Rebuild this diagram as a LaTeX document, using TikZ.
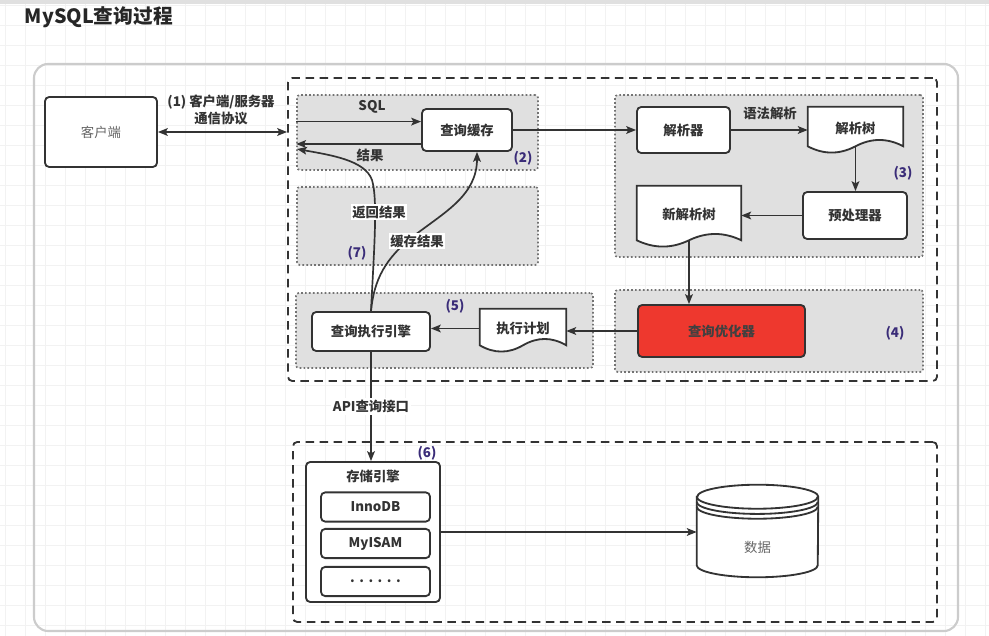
\documentclass[tikz,border=0pt]{standalone}
\usepackage{fontspec}
\setmainfont{Noto Sans CJK SC}
\usetikzlibrary{arrows.meta, fit, calc, positioning}

\definecolor{inkgray}{RGB}{51,51,51}
\definecolor{regiongray}{RGB}{224,224,224}
\definecolor{stepcol}{RGB}{58,44,120}
\definecolor{optred}{RGB}{238,56,46}
\definecolor{gridgray}{RGB}{242,242,242}

% document shape: frame node, wavy outline, then the text
\newcommand{\docnode}[4]{%
  \node[fit={(#2) (#3)}, inner sep=0pt] (#1) {};
  \draw[docline] (#1.north west) -- (#1.north east) -- ([yshift=0.175cm]#1.south east)
    .. controls ($(#1.south west)!0.833!(#1.south east)+(0cm,0.385cm)$)
       and ($(#1.south west)!0.667!(#1.south east)+(0cm,0.385cm)$) .. ([yshift=0.175cm]#1.south)
    .. controls ($(#1.south west)!0.333!(#1.south east)+(0cm,-0.035cm)$)
       and ($(#1.south west)!0.167!(#1.south east)+(0cm,-0.035cm)$) .. ([yshift=0.175cm]#1.south west)
    -- cycle;
  \node[lbl] (#1-text) at ([yshift=0.05cm]#1.center) {#4};}

\begin{document}
\begin{tikzpicture}[x=0.025cm, y=-0.025cm, >={Stealth[length=7pt,width=5.5pt,inset=1.5pt]},
  lbl/.style={font=\bfseries\fontsize{9.5}{11.5}\selectfont, text=inkgray},
  softtext/.style={font=\fontsize{9.5}{11.5}\selectfont, text=black!60},
  box/.style={lbl, draw=inkgray, line width=1.3pt, rounded corners=3pt, fill=white, inner sep=0pt},
  docline/.style={draw=inkgray, line width=1.3pt, fill=white},
  region/.style={draw=black!55, dash pattern=on 1.2pt off 1.6pt, line width=1.2pt, fill=regiongray, rounded corners=2pt, inner sep=0pt},
  group/.style={draw=inkgray, dash pattern=on 6pt off 4pt, line width=1.3pt, rounded corners=3pt, inner sep=0pt},
  stepno/.style={font=\bfseries\fontsize{9.5}{11.5}\selectfont, text=stepcol},
  engbox/.style={box, minimum width=2.725cm, minimum height=0.73cm},
  link/.style={->, draw=inkgray, line width=1.2pt}]
  \useasboundingbox (0,0) rectangle (989,636);
  \fill[white] (0,0) rectangle (989,636);
  % canvas grid
  \foreach \gx in {5,25,...,985} \draw[gridgray, line width=0.4pt] (\gx,0) -- (\gx,636);
  \foreach \gy in {5,25,...,635} \draw[gridgray, line width=0.4pt] (0,\gy) -- (989,\gy);
  \fill[black!12] (0,0) rectangle (989,4);
  % panel
  \draw[black!20, line width=1.5pt, rounded corners=10pt] (34,64) rectangle (958,631);
  \node[font=\bfseries\fontsize{14}{16}\selectfont, text=black!85, anchor=west] (title) at (20,17) {MySQL查询过程};

  % server and storage groups
  \node[group, fit={(288,78) (937,381)}] (server) {};
  \node[group, fit={(293,442) (937,622)}] (store) {};
  % dotted regions
  \node[region, fit={(297,95) (538,170)}] (r2) {};
  \node[region, fit={(297,187) (538,265)}] (r7) {};
  \node[region, fit={(296,293) (593,368)}] (r5) {};
  \node[region, fit={(615,95) (923,257)}] (r3) {};
  \node[region, fit={(615,290) (923,372)}] (r4) {};

  % client
  \node[box, softtext, minimum width=2.8cm, minimum height=1.75cm] (client) at (101,132) {客户端};
  \draw[<->, draw=inkgray, line width=1.2pt] (client.east) -- (client.east -| server.west);
  \node[lbl, align=center] (proto) at (221,110) {(1) 客户端/服务器\\通信协议};

  % (2) query cache
  \node[box, minimum width=2.25cm, minimum height=1.05cm] (cache) at (467,130) {查询缓存};
  \draw[link] ([yshift=0.21cm]cache.west -| r2.west) -- ([yshift=0.21cm]cache.west);
  \draw[link] ([yshift=-0.35cm]cache.west) -- ([yshift=-0.35cm]cache.west -| r2.west);
  \node[lbl] (sqltext) at (372,107) {SQL};
  \node[lbl] (restext) at (370,155) {结果};
  \node[stepno] (n2) at (523,158) {(2)};

  % (3) parser
  \node[box, minimum width=2.325cm, minimum height=1.15cm] (parser) at (683.5,130) {解析器};
  \draw[link] (cache.east) -- (cache.east -| parser.west);
  \docnode{ptree}{808,107}{903,153}{解析树}
  \draw[link] (parser.east) -- (parser.east -| ptree.west);
  \node[lbl] (syntax) at (770,113) {语法解析};
  \node[box, minimum width=2.6cm, minimum height=1.175cm] (prep) at (855,215.5) {预处理器};
  \draw[link] ([yshift=0.175cm]ptree.south) -- (ptree.south |- prep.north);
  \docnode{ntree}{637,186}{741,247}{新解析树}
  \draw[link] (prep.west) -- (prep.west -| ntree.east);
  \node[stepno] (n3) at (903,173) {(3)};

  % (4) optimizer
  \node[box, fill=optred, draw=black!80, text=black!75, minimum width=4.175cm, minimum height=1.3cm] (opt) at (721.5,331) {查询优化器};
  \draw[link] ([yshift=0.175cm]ntree.south) -- (ntree.south |- opt.north);
  \node[stepno] (n4) at (895,333) {(4)};

  % (5) execution
  \docnode{plan}{480,309}{566,352}{执行计划}
  \draw[link] (opt.west) -- (opt.west -| plan.east);
  \node[box, minimum width=2.95cm, minimum height=0.975cm] (exec) at (371,331.5) {查询执行引擎};
  \draw[link] ([yshift=0.05cm]plan.west) -- ([yshift=0.05cm]plan.west -| exec.east);
  \node[stepno] (n5) at (455,306) {(5)};

  % (7) results back
  \coordinate (retend) at (297,149);
  \draw[link] (exec.north) .. controls (374,250) and (378,200) .. (372,180)
    .. controls (365,160) and (330,155) .. (retend);
  \draw[link] (exec.north) .. controls (374,280) and (385,258) .. (415,235)
    .. controls (445,212) and (477,195) .. ([xshift=0.25cm]cache.south);
  \node[lbl, fill=white, inner sep=1pt] (rettext) at (379,212) {返回结果};
  \node[lbl, fill=white, inner sep=1pt] (savetext) at (417,241) {缓存结果};
  \node[stepno] (n7) at (357,253) {(7)};

  % (6) storage engines
  \node[box, minimum width=3.35cm, minimum height=3.5cm] (engine) at (373,532) {};
  \node[lbl, below=3pt of engine.north] (enginetext) {存储引擎};
  \node[engbox] (innodb) at (375.5,507) {InnoDB};
  \node[engbox] (myisam) at (375.5,543.5) {MyISAM};
  \node[engbox] (others) at (375.5,581.5) {.\hspace{3.2pt}.\hspace{3.2pt}.\hspace{3.2pt}.\hspace{3.2pt}.\hspace{3.2pt}.};
  \draw[link] (exec.south) -- (exec.south |- engine.north)
    node[midway, lbl, fill=white, inner sep=1.5pt] (api) {API查询接口};
  \node[stepno] (n6) at (427,453) {(6)};

  % data store
  \node[fit={(697,485) (818,577)}, inner sep=0pt] (data) {};
  \draw[docline] ([yshift=-0.3cm]data.north west) -- ([yshift=0.3cm]data.south west)
    arc[start angle=180, end angle=360, x radius=1.5125cm, y radius=0.3cm]
    -- ([yshift=-0.3cm]data.north east)
    arc[start angle=0, end angle=180, x radius=1.5125cm, y radius=0.3cm] -- cycle;
  \foreach \dy in {0.3,0.43,0.55}
    \draw[inkgray, line width=1.3pt] ([yshift=-\dy cm]data.north west)
      arc[start angle=180, end angle=360, x radius=1.5125cm, y radius=0.3cm];
  \node[softtext] (datatext) at ([yshift=-0.42cm]data.center) {数据};
  \draw[link] (engine.east) -- (engine.east -| data.west);
\end{tikzpicture}
\end{document}
